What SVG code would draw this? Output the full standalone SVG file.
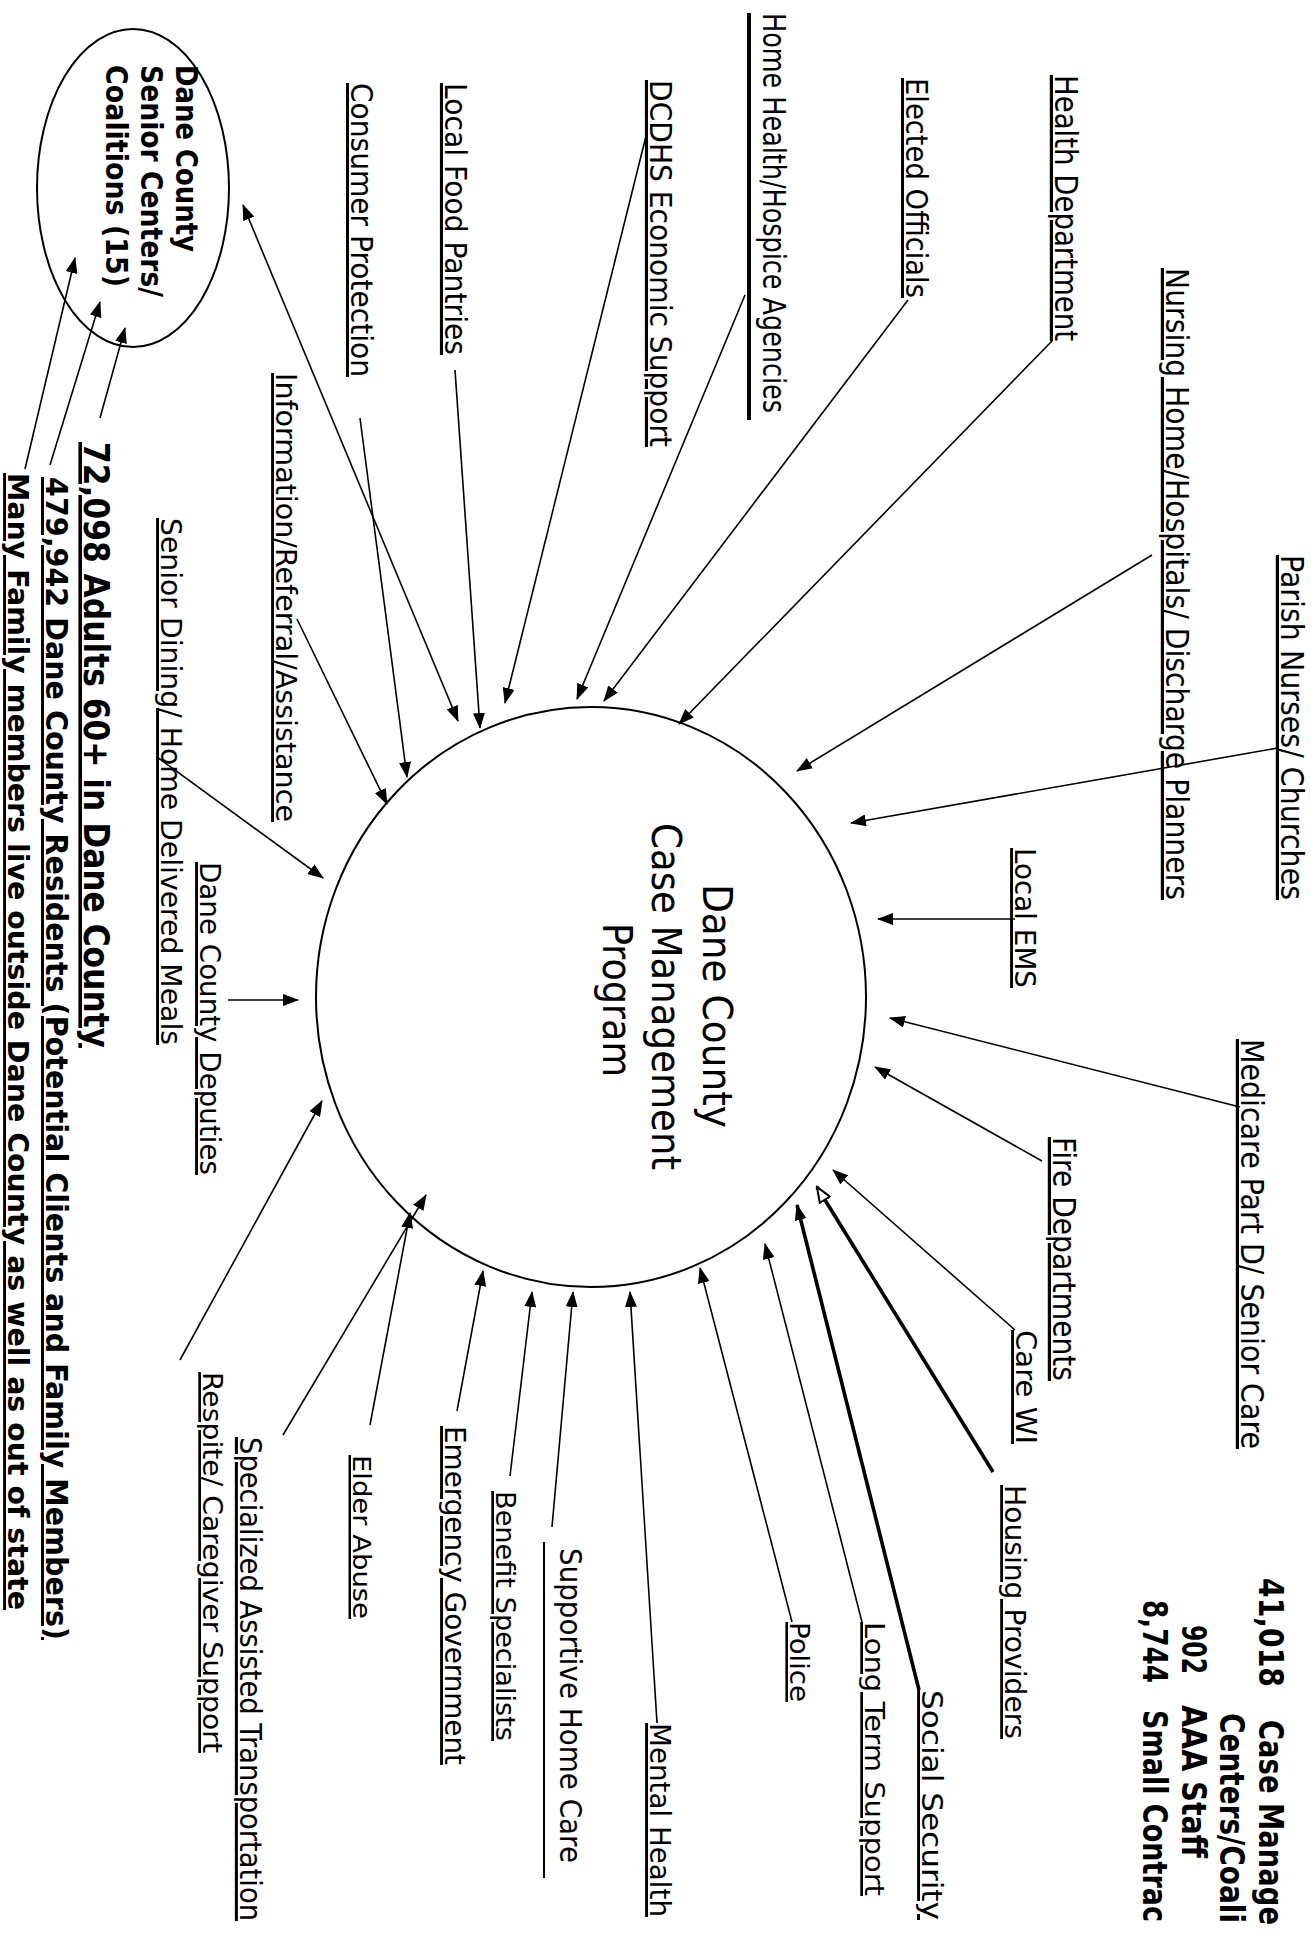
<svg xmlns="http://www.w3.org/2000/svg" width="1311" height="1933" viewBox="0 0 1311 1933">
<style>
  text { font-family: "DejaVu Sans", "Liberation Sans", sans-serif; fill: #000; }
  .u { text-decoration: underline; }
  .b { font-weight: bold; }
  .shape { fill: none; stroke: #000; stroke-width: 2; }
  #connectors line { stroke: #000; stroke-width: 1.6; fill: none; marker-end: url(#ah); }
  #connectors line.thick { stroke-width: 3.6; }
  #connectors line.open { marker-end: url(#ahOpen); }
  #connectors line.both { marker-start: url(#ah2); marker-end: url(#ah2); }
  .rule { stroke: #000; fill: none; }
</style>
<defs>
  <marker id="ah" viewBox="0 0 16 12" refX="15" refY="6" markerWidth="16" markerHeight="12" markerUnits="userSpaceOnUse" orient="auto">
    <path d="M0,0 L16,6 L0,12 z" fill="#000"/>
  </marker>
  <marker id="ah2" viewBox="0 0 16 12" refX="15" refY="6" markerWidth="16" markerHeight="12" markerUnits="userSpaceOnUse" orient="auto-start-reverse">
    <path d="M0,0 L16,6 L0,12 z" fill="#000"/>
  </marker>
  <marker id="ahOpen" viewBox="0 0 18 14" refX="16" refY="7" markerWidth="18" markerHeight="14" markerUnits="userSpaceOnUse" orient="auto">
    <path d="M1,1 L16,7 L1,13 z" fill="#fff" stroke="#000" stroke-width="2"/>
  </marker>
</defs>
<rect width="1311" height="1933" fill="#fff"/>

<!-- central program -->
<g id="program">
  <ellipse class="shape" cx="591" cy="997" rx="275" ry="290"/>
  <text font-size="40" textLength="244" lengthAdjust="spacingAndGlyphs" transform="translate(703,884) rotate(90)">Dane County</text>
  <text font-size="40" textLength="347" lengthAdjust="spacingAndGlyphs" transform="translate(652,823) rotate(90)">Case Management</text>
  <text font-size="40" textLength="154" lengthAdjust="spacingAndGlyphs" transform="translate(603,923) rotate(90)">Program</text>
</g>

<!-- senior centers ellipse -->
<g id="senior-centers">
  <ellipse class="shape" cx="133" cy="188" rx="96" ry="159"/>
  <text class="b" font-size="30" textLength="187" lengthAdjust="spacingAndGlyphs" transform="translate(176,65) rotate(90)">Dane County</text>
  <text class="b" font-size="30" textLength="232" lengthAdjust="spacingAndGlyphs" transform="translate(141,65) rotate(90)">Senior Centers/</text>
  <text class="b" font-size="30" textLength="222" lengthAdjust="spacingAndGlyphs" transform="translate(106,65) rotate(90)">Coalitions (15)</text>
</g>

<!-- bottom-left statistics -->
<g id="stat-adults">
  <text class="b u" font-size="36" textLength="606" lengthAdjust="spacingAndGlyphs" transform="translate(84,442) rotate(90)">72,098  Adults 60+ in Dane County</text>
</g>
<g id="stat-residents">
  <text class="b u" font-size="30" textLength="1163" lengthAdjust="spacingAndGlyphs" transform="translate(46,477) rotate(90)">479,942  Dane County Residents (Potential Clients and Family Members)</text>
</g>
<g id="stat-family">
  <text class="b u" font-size="29" textLength="1137" lengthAdjust="spacingAndGlyphs" transform="translate(8,473) rotate(90)">Many Family members live outside Dane County as well as out of state</text>
</g>

<!-- right statistics -->
<g id="stat-case-management">
  <text class="b" font-size="27" textLength="109" lengthAdjust="spacingAndGlyphs" transform="translate(1259,1578) rotate(90) scale(1,1.22)">41,018</text>
  <text class="b" font-size="27" textLength="205" lengthAdjust="spacingAndGlyphs" transform="translate(1259,1720) rotate(90) scale(1,1.22)">Case Manage</text>
  <text class="b" font-size="27" textLength="210" lengthAdjust="spacingAndGlyphs" transform="translate(1220,1713) rotate(90) scale(1,1.22)">Centers/Coali</text>
</g>
<g id="stat-aaa">
  <text class="b" font-size="27" textLength="49" lengthAdjust="spacingAndGlyphs" transform="translate(1182,1625) rotate(90) scale(1,1.22)">902</text>
  <text class="b" font-size="27" textLength="153" lengthAdjust="spacingAndGlyphs" transform="translate(1182,1705) rotate(90) scale(1,1.22)">AAA Staff</text>
</g>
<g id="stat-small">
  <text class="b" font-size="27" textLength="83" lengthAdjust="spacingAndGlyphs" transform="translate(1143,1600) rotate(90) scale(1,1.22)">8,744</text>
  <text class="b" font-size="27" textLength="212" lengthAdjust="spacingAndGlyphs" transform="translate(1143,1710) rotate(90) scale(1,1.22)">Small Contrac</text>
</g>

<!-- labels -->
<g id="health-department"><text class="u" font-size="32" textLength="266" lengthAdjust="spacingAndGlyphs" transform="translate(1055,75) rotate(90)">Health Department</text></g>
<g id="elected-officials"><text class="u" font-size="30" textLength="220" lengthAdjust="spacingAndGlyphs" transform="translate(906,78) rotate(90)">Elected Officials</text></g>
<g id="home-health"><line class="rule" x1="749" y1="13" x2="749" y2="420" stroke-width="4"/><text font-size="32" textLength="400" lengthAdjust="spacingAndGlyphs" transform="translate(763,13) rotate(90)">Home Health/Hospice Agencies</text></g>
<g id="dcdhs"><text class="u" font-size="31" textLength="367" lengthAdjust="spacingAndGlyphs" transform="translate(650,80) rotate(90)">DCDHS Economic Support</text></g>
<g id="food-pantries"><text class="u" font-size="31" textLength="272" lengthAdjust="spacingAndGlyphs" transform="translate(445,83) rotate(90)">Local Food Pantries</text></g>
<g id="consumer-protection"><text class="u" font-size="30" textLength="294" lengthAdjust="spacingAndGlyphs" transform="translate(351,83) rotate(90)">Consumer Protection</text></g>
<g id="information-referral"><text class="u" font-size="29" textLength="449" lengthAdjust="spacingAndGlyphs" transform="translate(276,373) rotate(90)">Information/Referral/Assistance</text></g>
<g id="senior-dining"><text class="u" font-size="29" textLength="527" lengthAdjust="spacingAndGlyphs" transform="translate(161,518) rotate(90)">Senior Dining/ Home Delivered Meals</text></g>
<g id="deputies"><text class="u" font-size="29" textLength="313" lengthAdjust="spacingAndGlyphs" transform="translate(200,862) rotate(90)">Dane County Deputies</text></g>
<g id="respite"><text class="u" font-size="27" textLength="381" lengthAdjust="spacingAndGlyphs" transform="translate(203,1372) rotate(90)">Respite/ Caregiver Support</text></g>
<g id="transportation"><text class="u" font-size="27" textLength="484" lengthAdjust="spacingAndGlyphs" transform="translate(240,1437) rotate(90) scale(1,1.12)">Specialized Assisted Transportation</text></g>
<g id="elder-abuse"><text class="u" font-size="25" textLength="164" lengthAdjust="spacingAndGlyphs" transform="translate(353,1455) rotate(90)">Elder Abuse</text></g>
<g id="emergency-government"><text class="u" font-size="29" textLength="339" lengthAdjust="spacingAndGlyphs" transform="translate(445,1426) rotate(90)">Emergency Government</text></g>
<g id="benefit-specialists"><text class="u" font-size="27" textLength="250" lengthAdjust="spacingAndGlyphs" transform="translate(496,1491) rotate(90)">Benefit Specialists</text></g>
<g id="supportive-home-care"><line class="rule" x1="544" y1="1542" x2="544" y2="1878" stroke-width="2"/><text font-size="30" textLength="315" lengthAdjust="spacingAndGlyphs" transform="translate(560,1548) rotate(90)">Supportive Home Care</text></g>
<g id="mental-health"><text class="u" font-size="29" textLength="194" lengthAdjust="spacingAndGlyphs" transform="translate(650,1723) rotate(90)">Mental Health</text></g>
<g id="police"><text class="u" font-size="26" textLength="80" lengthAdjust="spacingAndGlyphs" transform="translate(790,1622) rotate(90)">Police</text></g>
<g id="long-term-support"><text class="u" font-size="27" textLength="274" lengthAdjust="spacingAndGlyphs" transform="translate(865,1622) rotate(90)">Long Term Support</text></g>
<g id="social-security"><text class="u" font-size="29" textLength="230" lengthAdjust="spacingAndGlyphs" transform="translate(922,1690) rotate(90)">Social Security</text></g>
<g id="housing-providers"><text class="u" font-size="28" textLength="254" lengthAdjust="spacingAndGlyphs" transform="translate(1005,1485) rotate(90)">Housing Providers</text></g>
<g id="care-wi"><text class="u" font-size="29" textLength="114" lengthAdjust="spacingAndGlyphs" transform="translate(1016,1330) rotate(90)">Care WI</text></g>
<g id="fire-departments"><text class="u" font-size="32" textLength="244" lengthAdjust="spacingAndGlyphs" transform="translate(1053,1137) rotate(90)">Fire Departments</text></g>
<g id="medicare"><text class="u" font-size="32" textLength="410" lengthAdjust="spacingAndGlyphs" transform="translate(1241,1039) rotate(90)">Medicare Part D/ Senior Care</text></g>
<g id="local-ems"><text class="u" font-size="29" textLength="140" lengthAdjust="spacingAndGlyphs" transform="translate(1015,848) rotate(90)">Local EMS</text></g>
<g id="parish-nurses"><text class="u" font-size="32" textLength="345" lengthAdjust="spacingAndGlyphs" transform="translate(1281,555) rotate(90)">Parish Nurses/ Churches</text></g>
<g id="nursing-home"><text class="u" font-size="32" textLength="632" lengthAdjust="spacingAndGlyphs" transform="translate(1166,268) rotate(90)">Nursing Home/Hospitals/ Discharge Planners</text></g>

<g id="connectors">
  <line x1="1052" y1="341" x2="679" y2="724"/>
  <line x1="908" y1="300" x2="604" y2="701"/>
  <line x1="745" y1="295" x2="577" y2="699"/>
  <line x1="647" y1="132" x2="505" y2="703"/>
  <line x1="455" y1="370" x2="480" y2="728"/>
  <line x1="360" y1="418" x2="407" y2="777"/>
  <line class="both" x1="243" y1="205" x2="458" y2="721"/>
  <line x1="297" y1="619" x2="387" y2="804"/>
  <line x1="157" y1="757" x2="323" y2="878"/>
  <line x1="228" y1="1000" x2="298" y2="1000"/>
  <line x1="180" y1="1360" x2="322" y2="1101"/>
  <line x1="283" y1="1435" x2="426" y2="1195"/>
  <line x1="370" y1="1425" x2="410" y2="1213"/>
  <line x1="457" y1="1411" x2="483" y2="1271"/>
  <line x1="510" y1="1476" x2="532" y2="1292"/>
  <line x1="552" y1="1527" x2="573" y2="1292"/>
  <line x1="657" y1="1723" x2="630" y2="1292"/>
  <line x1="792" y1="1622" x2="700" y2="1268"/>
  <line x1="862" y1="1622" x2="765" y2="1244"/>
  <line class="thick" x1="919" y1="1690" x2="797" y2="1205"/>
  <line class="thick open" x1="993" y1="1472" x2="817" y2="1187"/>
  <line x1="1015" y1="1330" x2="833" y2="1170"/>
  <line x1="1042" y1="1161" x2="875" y2="1067"/>
  <line x1="1240" y1="1107" x2="890" y2="1018"/>
  <line x1="1015" y1="919" x2="878" y2="919"/>
  <line x1="1278" y1="748" x2="851" y2="823"/>
  <line x1="1152" y1="555" x2="797" y2="771"/>
  <line x1="100" y1="418" x2="125" y2="328"/>
  <line x1="50" y1="465" x2="100" y2="302"/>
  <line x1="25" y1="469" x2="75" y2="258"/>
</g>
</svg>
